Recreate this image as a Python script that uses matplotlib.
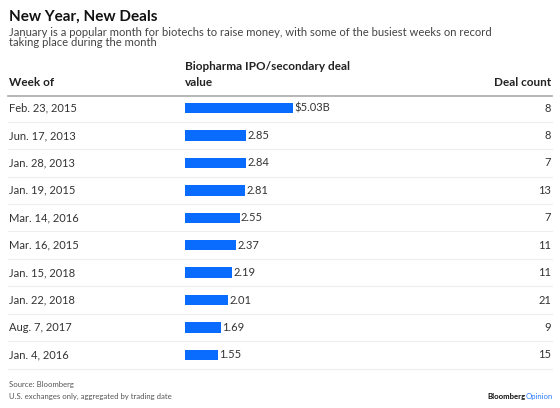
import matplotlib
matplotlib.use("Agg")
import matplotlib.pyplot as plt
from matplotlib.transforms import blended_transform_factory

weeks = ["Feb. 23, 2015", "Jun. 17, 2013", "Jan. 28, 2013", "Jan. 19, 2015",
         "Mar. 14, 2016", "Mar. 16, 2015", "Jan. 15, 2018", "Jan. 22, 2018",
         "Aug. 7, 2017", "Jan. 4, 2016"]
deal_value = [5.03, 2.85, 2.84, 2.81, 2.55, 2.37, 2.19, 2.01, 1.69, 1.55]
deal_count = [8, 8, 7, 13, 7, 11, 11, 21, 9, 15]
value_labels = ["$5.03B"] + ["%.2f" % v for v in deal_value[1:]]

W, H = 560, 408
plt.rcParams['font.family'] = ['Lato', 'DejaVu Sans']

fig = plt.figure(figsize=(W / 100, H / 100), dpi=100)

def fx(px):
    return px / W

def fy(py):
    return 1 - py / H

# bar axes: rows centred at 108px, step 27.44px
step = 27.44
top = 108 - step / 2
bottom = 108 + step * 9.5
ax = fig.add_axes([fx(185), fy(bottom), fx(552) - fx(185), (bottom - top) / H])
ax.set_xlim(0, 367 / 21.5)
ax.set_ylim(9.5, -0.5)
ax.axis('off')

rows = list(range(len(weeks)))
ax.barh(rows, deal_value, height=0.38, color='#0a6bff')

tr = blended_transform_factory(fig.transFigure, ax.transData)
for i in rows:
    ax.text(deal_value[i] + 0.05, i, value_labels[i], va='center', ha='left',
            fontsize=8, color='#333333')
    ax.text(fx(9), i, weeks[i], transform=tr, va='center', ha='left',
            fontsize=8, color='#333333')
    ax.text(fx(551), i, str(deal_count[i]), transform=tr, va='center', ha='right',
            fontsize=8, color='#333333')
    ax.plot([fx(8), fx(552)], [i + 0.5, i + 0.5], transform=tr, color='#eeeeee',
            lw=0.8, clip_on=False)

# header rule
fig.add_artist(plt.Line2D([fx(8), fx(552)], [fy(95.5), fy(95.5)], color='#aaaaaa', lw=1.2))

fig.text(fx(9), fy(17), "New Year, New Deals", fontsize=11, fontweight='bold',
         va='center', ha='left', color='#111111')
fig.text(fx(9), fy(32), "January is a popular month for biotechs to raise money, with some of the busiest weeks on record",
         fontsize=8.15, va='center', ha='left', color='#444444')
fig.text(fx(9), fy(43), "taking place during the month",
         fontsize=8.15, va='center', ha='left', color='#444444')

fig.text(fx(9), fy(83), "Week of", fontsize=8.5, fontweight='bold', va='center', ha='left', color='#222222')
fig.text(fx(185), fy(67), "Biopharma IPO/secondary deal", fontsize=8.5, fontweight='bold',
         va='center', ha='left', color='#222222')
fig.text(fx(185), fy(83), "value", fontsize=8.5, fontweight='bold', va='center', ha='left', color='#222222')
fig.text(fx(551), fy(83), "Deal count", fontsize=8.5, fontweight='bold', va='center', ha='right', color='#222222')

fig.text(fx(9), fy(385), "Source: Bloomberg", fontsize=5.6, va='center', ha='left', color='#555555')
fig.text(fx(9), fy(396), "U.S. exchanges only, aggregated by trading date", fontsize=5.6,
         va='center', ha='left', color='#555555')
fig.text(fx(526), fy(396), "Opinion", fontsize=5.6, va='center', ha='left', color='#2b7cff')
fig.text(fx(526), fy(396), "Bloomberg", fontsize=5.6, fontweight='bold', va='center', ha='right', color='#111111')

fig.savefig("out.png", dpi=100)
